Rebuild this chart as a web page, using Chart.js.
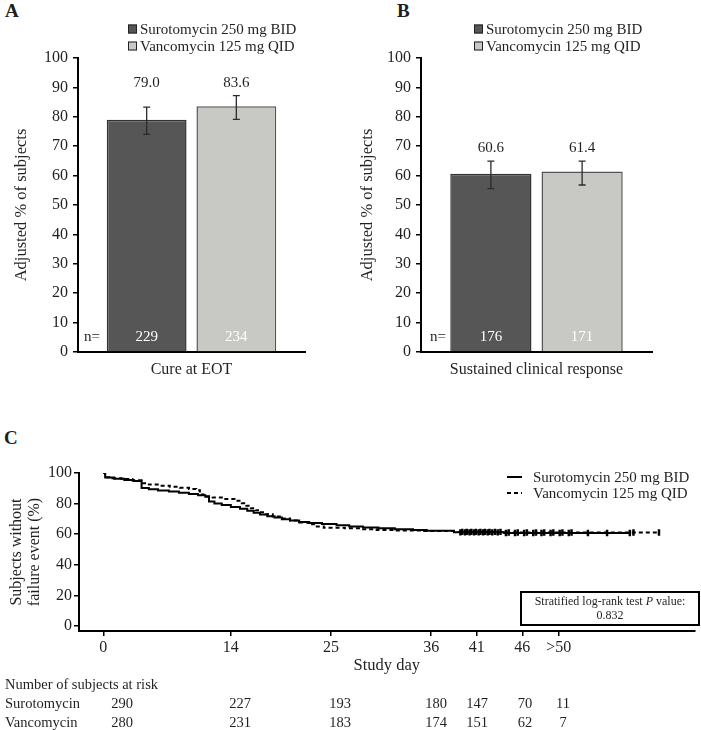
<!DOCTYPE html>
<html>
<head>
<meta charset="utf-8">
<script src="https://cdn.jsdelivr.net/npm/chart.js@4.4.0/dist/chart.umd.min.js"></script>
<style>
  body { margin: 0; background: #fff; width: 701px; height: 730px; position: relative; overflow: hidden;
         font-family: 'Liberation Serif', 'Times New Roman', serif; color: #231f20; }
  canvas { position: absolute; }
  .panel { position: absolute; font-weight: bold; font-size: 19px; line-height: 20px; }
  .pbox { position: absolute; left: 520px; top: 591px; width: 176px; height: 30px; border: 2px solid #000;
          font-size: 12px; line-height: 14px; text-align: center; padding-top: 1px; }
  .risk { position: absolute; font-size: 14.5px; line-height: 16px; white-space: nowrap; }
</style>
</head>
<body>
<div class="panel" style="left:5px;top:1px">A</div>
<div class="panel" style="left:397px;top:1px">B</div>
<div class="panel" style="left:4px;top:428px">C</div>

<canvas id="chartA" width="350" height="380" style="left:0;top:0"></canvas>
<canvas id="chartB" width="351" height="380" style="left:350px;top:0"></canvas>
<canvas id="chartC" width="701" height="260" style="left:0;top:420px"></canvas>

<div class="pbox">Stratified log-rank test <i>P</i> value:<br>0.832</div>
<div id="riskTable"></div>

<script>
// ── DATA ────────────────────────────────────────────────────────────
const groupNames = ['Surotomycin 250 mg BID', 'Vancomycin 125 mg QID'];

// Panel A: cure at end of treatment
const cureLabel = ['Cure at EOT'];
const cureValues = [79.0, 83.6];
const cureLow = [74.0, 79.1];
const cureHigh = [83.3, 87.2];
const cureN = [229, 234];

// Panel B: sustained clinical response
const scrLabel = ['Sustained clinical response'];
const scrValues = [60.6, 61.4];
const scrLow = [55.6, 56.8];
const scrHigh = [64.9, 64.9];
const scrN = [176, 171];

// Panel C: Kaplan-Meier, subjects without failure event (%)
const suroDays = [0, 0.2, 1.2, 2.3, 3.3, 4.2, 5.0, 6.0, 7.2, 8.3, 9.4, 10.4, 11.2, 11.6, 12.2, 13.0, 14.0,
  15.0, 15.8, 16.5, 17.2, 18.0, 18.8, 19.6, 20.5, 21.5, 22.6, 24.0, 25.6, 27.0, 28.5, 30.2, 32.0, 34.0,
  35.5, 38.5, 44.0, 57.8];
const suroSurv = [100, 97.0, 96.3, 95.5, 94.8, 90.2, 89.3, 88.6, 87.9, 87.1, 86.3, 85.4, 84.4, 81.3, 80.0,
  79.0, 77.8, 76.6, 75.3, 74.0, 72.8, 71.8, 70.9, 69.8, 68.9, 68.0, 67.3, 66.6, 65.9, 65.0, 64.3, 63.8,
  63.3, 62.8, 62.3, 61.2, 60.8, 60.8];
const vancoDays = [0, 0.2, 1.0, 2.0, 3.2, 4.2, 5.0, 6.2, 7.3, 8.4, 9.4, 10.2, 10.6, 11.0, 12.0, 13.2, 14.4,
  15.2, 15.7, 16.2, 16.7, 17.2, 17.8, 18.6, 19.5, 20.5, 21.5, 22.5, 23.3, 24.2, 26.5, 28.2, 30.0, 32.0,
  35.0, 38.5, 44.0, 61.0];
const vancoSurv = [100, 97.3, 96.6, 96.0, 95.3, 93.3, 92.4, 91.7, 91.0, 90.3, 89.6, 88.8, 86.0, 84.8, 84.0,
  83.0, 81.8, 80.3, 78.6, 77.0, 75.6, 74.3, 73.0, 71.6, 70.2, 68.9, 67.7, 66.5, 65.0, 64.2, 63.8, 63.3,
  62.8, 62.4, 62.0, 61.5, 61.1, 61.1];
const suroCensor = [39.2, 39.7, 40.2, 40.7, 41.2, 41.7, 42.2, 42.7, 43.3, 44.2, 45.2, 46.2, 47.2, 48.1,
  49.1, 50.1, 51.1, 53.2, 55.3, 57.8];
const vancoCensor = [39.4, 39.9, 40.4, 40.9, 41.4, 41.9, 42.4, 43.0, 43.6, 44.5, 45.5, 46.5, 47.5, 48.4,
  49.4, 50.4, 51.4, 58.2, 61.0];
const dayTicks = [0, 14, 25, 36, 41, 46, 50];
const survTicks = [0, 20, 40, 60, 80, 100];

// Number of subjects at risk
const riskGroups = ['Surotomycin', 'Vancomycin'];
const riskSuro = [290, 227, 193, 180, 147, 70, 11];
const riskVanco = [280, 231, 183, 174, 151, 62, 7];

// ── STYLE ───────────────────────────────────────────────────────────
const FONT = "'Liberation Serif', 'Times New Roman', serif";
const INK = '#231f20';
const barFill = ['#565656', '#c8c9c4'];
const barEdge = ['#333333', '#555555'];
const riskCols = [122, 240, 340, 436, 477, 525, 563];

// ── BAR PANELS (A, B) ───────────────────────────────────────────────
const barExtras = {
  id: 'barExtras',
  afterDatasetsDraw(chart, args, opts) {
    const { ctx, chartArea } = chart;
    const y = chart.scales.y;
    ctx.save();
    ctx.strokeStyle = '#2b2b2b';
    ctx.lineWidth = 1.3;
    const xs = chart.data.datasets.map((ds, i) => chart.getDatasetMeta(i).data[0].x);
    xs.forEach((x, i) => {
      const lo = y.getPixelForValue(opts.low[i]);
      const hi = y.getPixelForValue(opts.high[i]);
      ctx.beginPath();
      ctx.moveTo(x, lo); ctx.lineTo(x, hi);
      ctx.moveTo(x - 3.5, lo); ctx.lineTo(x + 3.5, lo);
      ctx.moveTo(x - 3.5, hi); ctx.lineTo(x + 3.5, hi);
      ctx.stroke();
    });

    ctx.font = `15px ${FONT}`;
    ctx.textAlign = 'center';
    ctx.textBaseline = 'middle';
    const labelY = y.getPixelForValue(Math.max(...opts.high)) - 13;
    const nY = y.getPixelForValue(0) - 15;
    xs.forEach((x, i) => {
      ctx.fillStyle = INK;
      ctx.fillText(chart.data.datasets[i].data[0].toFixed(1), x, labelY);
      ctx.fillStyle = '#ffffff';
      ctx.fillText(String(opts.n[i]), x, nY);
    });
    ctx.fillStyle = INK;
    ctx.fillText('n=', chartArea.left + opts.nX, nY);
    ctx.restore();
  },
  afterDraw(chart, args, opts) {
    const ctx = chart.ctx;
    ctx.save();
    ctx.font = `15px ${FONT}`;
    ctx.textBaseline = 'middle';
    ctx.textAlign = 'left';
    chart.data.datasets.forEach((ds, i) => {
      const rowY = 29 + i * 17;
      ctx.fillStyle = ds.backgroundColor;
      ctx.fillRect(opts.legendX, rowY - 4.5, 9, 9);
      ctx.strokeStyle = '#222';
      ctx.lineWidth = 1;
      ctx.strokeRect(opts.legendX + 0.5, rowY - 4, 8, 8);
      ctx.fillStyle = INK;
      ctx.fillText(ds.label, opts.legendX + 12, rowY + 1);
    });
    ctx.restore();
  }
};

function makeBarPanel(id, category, values, low, high, counts, lay) {
  return new Chart(document.getElementById(id), {
    type: 'bar',
    data: {
      labels: category,
      datasets: groupNames.map((name, i) => ({
        label: name,
        data: [values[i]],
        backgroundColor: barFill[i],
        borderColor: barEdge[i],
        borderWidth: 1.5,
        categoryPercentage: 0.79,
        barPercentage: 0.89
      }))
    },
    options: {
      responsive: false,
      animation: false,
      layout: { padding: { left: 0, top: 58, right: lay.right, bottom: 0 } },
      plugins: {
        legend: { display: false },
        tooltip: { enabled: false },
        barExtras: { low, high, n: counts, nX: lay.nX, legendX: lay.legendX }
      },
      scales: {
        x: {
          ticks: { color: INK, font: { family: FONT, size: 16 }, padding: 0 },
          grid: { display: false },
          border: { color: '#000', width: 2 },
          afterFit: s => { s.height = 28; }
        },
        y: {
          min: 0, max: 100,
          ticks: { stepSize: 10, color: INK, font: { family: FONT, size: 16 }, padding: 5 },
          grid: { drawOnChartArea: false, drawTicks: true, tickLength: 5, color: '#000', lineWidth: 1.5 },
          border: { color: '#000', width: 2 },
          title: {
            display: true, text: 'Adjusted % of subjects', color: INK,
            font: { family: FONT, size: 16.5 }, padding: { top: lay.titlePad, bottom: 0 }
          },
          afterFit: s => { s.width = lay.left; }
        }
      }
    },
    plugins: [barExtras]
  });
}

makeBarPanel('chartA', cureLabel, cureValues, cureLow, cureHigh, cureN,
  { left: 78, right: 45, titlePad: 12, nX: 14, legendX: 128 });
makeBarPanel('chartB', scrLabel, scrValues, scrLow, scrHigh, scrN,
  { left: 71, right: 49, titlePad: 8, nX: 17, legendX: 124 });

// ── KAPLAN-MEIER PANEL (C) ──────────────────────────────────────────
function survAt(days, surv, t) {
  let v = surv[0];
  days.forEach((d, i) => { if (d <= t) v = surv[i]; });
  return v;
}
const toPoints = (xs, ys) => xs.map((x, i) => ({ x, y: ys[i] }));
const censorPoints = (times, days, surv) => times.map(t => ({ x: t, y: survAt(days, surv, t) }));

const kmLegend = {
  id: 'kmLegend',
  afterDraw(chart) {
    const ctx = chart.ctx;
    ctx.save();
    ctx.font = `15px ${FONT}`;
    ctx.textBaseline = 'middle';
    [0, 1].forEach(i => {
      const ds = chart.data.datasets[i];
      const rowY = 57 + i * 16;
      ctx.strokeStyle = '#000';
      ctx.lineWidth = 2;
      ctx.setLineDash(ds.borderDash || []);
      ctx.beginPath();
      ctx.moveTo(507, rowY); ctx.lineTo(522, rowY);
      ctx.stroke();
      ctx.setLineDash([]);
      ctx.fillStyle = INK;
      ctx.fillText(ds.label, 533, rowY + 1);
    });
    ctx.restore();
  }
};

const censorStyle = {
  type: 'scatter', showLine: false,
  pointStyle: 'line', pointRotation: 90, pointRadius: 3.2,
  pointBorderWidth: 2.5, pointBorderColor: '#000', pointBackgroundColor: '#000'
};

new Chart(document.getElementById('chartC'), {
  type: 'line',
  data: {
    datasets: [
      { label: groupNames[0], data: toPoints(suroDays, suroSurv), stepped: true,
        borderColor: '#000', borderWidth: 2, pointRadius: 0, fill: false },
      { label: groupNames[1], data: toPoints(vancoDays, vancoSurv), stepped: true,
        borderColor: '#000', borderWidth: 2, borderDash: [4, 3], pointRadius: 0, fill: false },
      Object.assign({ label: 'suro censored', data: censorPoints(suroCensor, suroDays, suroSurv) }, censorStyle),
      Object.assign({ label: 'vanco censored', data: censorPoints(vancoCensor, vancoDays, vancoSurv) }, censorStyle)
    ]
  },
  options: {
    responsive: false,
    animation: false,
    layout: { padding: { left: 0, top: 53, right: 0, bottom: 0 } },
    plugins: { legend: { display: false }, tooltip: { enabled: false } },
    scales: {
      x: {
        type: 'linear', min: -2.67, max: 64.9,
        afterBuildTicks: s => { s.ticks = dayTicks.map(v => ({ value: v })); },
        ticks: {
          autoSkip: false, maxRotation: 0, color: INK, padding: 2,
          font: { family: FONT, size: 16 },
          callback: v => (v === 50 ? '>50' : String(v))
        },
        grid: { drawOnChartArea: false, drawTicks: true, tickLength: 5, color: '#000', lineWidth: 1.5 },
        border: { color: '#000', width: 2 },
        title: { display: true, text: 'Study day', color: INK, font: { family: FONT, size: 16.5 },
                 padding: { top: 0, bottom: 4 } },
        afterFit: s => { s.height = 49; }
      },
      y: {
        min: -3.3, max: 100,
        afterBuildTicks: s => { s.ticks = survTicks.map(v => ({ value: v })); },
        ticks: { color: INK, padding: 2, font: { family: FONT, size: 16 } },
        grid: { drawOnChartArea: false, drawTicks: true, tickLength: 5, color: '#000', lineWidth: 1.5 },
        border: { color: '#000', width: 2 },
        title: { display: true, text: ['Subjects without', 'failure event (%)'], color: INK,
                 font: { family: FONT, size: 16, lineHeight: 1.15 }, padding: { top: 7.5, bottom: 0 } },
        afterFit: s => { s.width = 79; }
      }
    }
  },
  plugins: [kmLegend]
});

// ── RISK TABLE ──────────────────────────────────────────────────────
const table = document.getElementById('riskTable');
function addText(text, x, y, align) {
  const d = document.createElement('div');
  d.className = 'risk';
  d.textContent = text;
  d.style.top = (y - 8) + 'px';
  if (align === 'center') {
    d.style.left = (x - 30) + 'px';
    d.style.width = '60px';
    d.style.textAlign = 'center';
  } else {
    d.style.left = x + 'px';
  }
  table.appendChild(d);
}
addText('Number of subjects at risk', 5, 684);
[riskSuro, riskVanco].forEach((row, r) => {
  const y = 703 + r * 18.5;
  addText(riskGroups[r], 5, y);
  row.forEach((v, c) => addText(String(v), riskCols[c], y, 'center'));
});
</script>
</body>
</html>
